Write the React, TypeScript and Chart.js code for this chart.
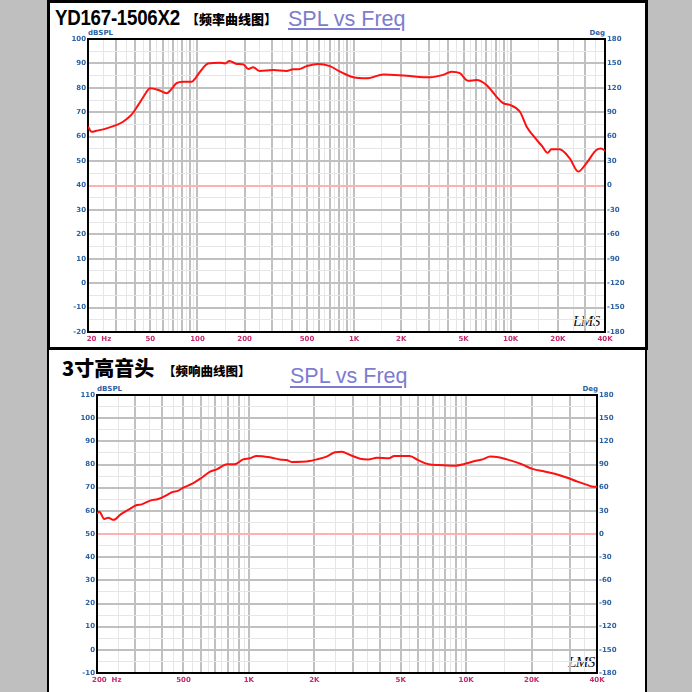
import React, { useEffect, useRef } from "react";
import { Chart, registerables } from "chart.js";

Chart.register(...registerables);

// ---------- Top chart (YD167-1506X2) ----------
const TOP_FREQ = [
  20, 21.1, 22.6, 26.3, 30.6, 33.5, 37.8, 41.9, 45.3, 49.9,
  56.3, 63.6, 66.8, 73.6, 81, 91.9, 96.9, 104, 117, 139, 150,
  160, 178, 196, 211, 227, 250, 304, 370, 409, 440,
  498, 590, 700, 814, 990, 1206, 1539, 2169, 3049, 3702,
  4190, 4730, 5345, 6041, 6997, 8105, 8931, 9872, 11452, 12643,
  14100, 15950, 17200, 18200, 20500, 23800, 27000, 30400, 35200, 37800,
  40000,
];
const TOP_SPL = [
  64.1, 62.0, 62.4, 63.4, 64.8, 66.1, 68.9, 73.0, 76.4, 79.8,
  79.1, 77.8, 78.8, 81.9, 82.5, 82.5, 83.9, 86.6, 90.0, 90.3, 90.0,
  91.0, 89.8, 89.6, 87.7, 88.4, 86.9, 87.3, 86.9, 87.6, 87.6,
  88.9, 89.8, 88.9, 86.6, 84.3, 83.9, 85.5, 84.9, 84.3, 85.3,
  86.6, 86.0, 82.9, 83.2, 81.2, 76.4, 73.7, 73.0, 70.2, 64.1,
  60.0, 55.9, 53.4, 54.8, 54.8, 51.1, 45.7, 49.1, 54.5, 55.2,
  54.3,
];
const TOP_X_TICKS = [20, 50, 100, 200, 500, 1000, 2000, 5000, 10000, 20000, 40000];
const TOP_X_LABELS = ["         20  Hz", "50", "100", "200", "500", "1K", "2K", "5K", "10K", "20K", "40K"];
const TOP_Y_MIN = -20;
const TOP_Y_MAX = 100;
const TOP_REF = 40;

// ---------- Bottom chart (3寸高音头) ----------
const BOT_FREQ = [
  200, 205, 216, 225, 239, 257, 278, 305, 321, 351,
  383, 419, 442, 474, 499, 546, 606, 663, 711, 794,
  857, 941, 1012, 1086, 1249, 1389, 1491, 1573, 1907, 2047,
  2278, 2490, 2675, 2923, 3253, 3542, 3885, 4413, 4663, 5490,
  6015, 6718, 7500, 8880, 9800, 11100, 11900, 12900, 14100, 15400,
  17900, 20200, 23200, 25800, 29200, 32500, 36000, 38500, 40000,
];
const BOT_SPL = [
  58.9, 59.6, 56.5, 57.0, 56.1, 58.5, 60.4, 62.5, 62.8, 64.4,
  65.1, 66.8, 68.0, 68.7, 70.0, 71.6, 74.3, 76.9, 77.9, 80.1,
  80.1, 82.2, 82.7, 83.7, 83.1, 82.2, 81.9, 81.1, 81.5, 82.2,
  83.4, 85.3, 85.5, 84.1, 82.5, 82.2, 82.9, 82.7, 83.7, 83.7,
  81.9, 80.1, 79.8, 79.5, 80.2, 81.6, 82.2, 83.4, 83.1, 82.2,
  80.2, 78.1, 76.9, 75.9, 74.3, 72.6, 71.2, 70.4, 70.4,
];
const BOT_X_TICKS = [200, 500, 1000, 2000, 5000, 10000, 20000, 40000];
const BOT_X_LABELS = ["        200  Hz", "500", "1K", "2K", "5K", "10K", "20K", "40K"];
const BOT_Y_MIN = -10;
const BOT_Y_MAX = 110;
const BOT_REF = 50;

const DEG_MIN = -180;
const DEG_MAX = 180;

// ---------- helpers ----------
function gridValues(min: number, max: number): number[] {
  const out: number[] = [];
  for (let e = Math.floor(Math.log10(min)); e <= Math.ceil(Math.log10(max)); e++) {
    const p = Math.pow(10, e);
    for (let n = 1; n < 10; n++) {
      for (const v of [n * p, (n + 0.5) * p]) {
        if (v >= min * 0.9999 && v <= max * 1.0001) out.push(v);
      }
    }
  }
  return out.sort((a, b) => a - b);
}
function isMajorLog(v: number): boolean {
  const p = Math.pow(10, Math.floor(Math.log10(v) + 1e-9));
  const m = v / p;
  return Math.abs(m - Math.round(m)) < 1e-6;
}

const MAJOR = "#c0c0c0";
const MINOR = "#e6e6e6";
const PINK = "#ffb0b0";
const BLUE = "#2d62a3";
const CRIMSON = "#c42a6e";
const TICK_FONT = { family: "'DejaVu Sans'", size: 7, weight: "bold" as const };

const framePlugin = {
  id: "frame",
  beforeDatasetsDraw(chart: any) {
    const { ctx, chartArea } = chart;
    const { left, top, right, bottom } = chartArea;
    ctx.save();
    ctx.strokeStyle = "#000";
    ctx.lineWidth = 2;
    ctx.strokeRect(left, top, right - left, bottom - top);
    ctx.restore();
  },
};

type Props = {
  top: number;
  height: number;
  freq: number[];
  spl: number[];
  xTicks: number[];
  xLabels: string[];
  yMin: number;
  yMax: number;
  refLevel: number;
  fMin: number;
  fMax: number;
  padTop: number;
  leftW: number;
  rightW: number;
  bottomH: number;
};

function SplChart(p: Props) {
  const ref = useRef<HTMLCanvasElement>(null);
  useEffect(() => {
    if (!ref.current) return;
    const grid = gridValues(p.fMin, p.fMax);
    const chart = new Chart(ref.current, {
      type: "line",
      data: {
        datasets: [
          {
            data: p.freq.map((f, i) => ({ x: f, y: p.spl[i] })),
            borderColor: "#ff1010",
            borderWidth: 2,
            pointRadius: 0,
            cubicInterpolationMode: "monotone",
            fill: false,
          },
        ],
      },
      options: {
        animation: false,
        responsive: false,
        maintainAspectRatio: false,
        devicePixelRatio: 1,
        layout: { padding: { top: p.padTop, left: 0, right: 0, bottom: 0 } },
        plugins: { legend: { display: false }, tooltip: { enabled: false }, title: { display: false } },
        scales: {
          x: {
            type: "logarithmic",
            position: "bottom",
            min: p.fMin,
            max: p.fMax,
            afterBuildTicks: (scale: any) => {
              scale.ticks = grid.map((v) => ({ value: v }));
            },
            afterFit: (scale: any) => {
              scale.height = p.bottomH;
            },
            border: { display: false },
            grid: {
              drawTicks: false,
              color: (c: any) => (isMajorLog(c.tick.value) ? MAJOR : MINOR),
              lineWidth: (c: any) => (isMajorLog(c.tick.value) ? 2 : 1),
            },
            ticks: {
              autoSkip: false,
              maxRotation: 0,
              minRotation: 0,
              padding: 3,
              color: CRIMSON,
              font: TICK_FONT,
              callback: (v: any) => {
                const idx = p.xTicks.findIndex((t) => Math.abs(t - Number(v)) / t < 1e-6);
                return idx >= 0 ? p.xLabels[idx] : "";
              },
            },
          },
          y: {
            type: "linear",
            position: "left",
            min: p.yMin,
            max: p.yMax,
            afterFit: (scale: any) => {
              scale.width = p.leftW;
            },
            border: { display: false },
            grid: {
              drawTicks: false,
              color: (c: any) => {
                const v = c.tick.value;
                if (v === p.refLevel) return PINK;
                return v % 10 === 0 ? MAJOR : MINOR;
              },
              lineWidth: (c: any) => (c.tick.value % 10 === 0 ? 2 : 1),
            },
            ticks: {
              stepSize: 5,
              padding: 2,
              color: BLUE,
              font: TICK_FONT,
              autoSkip: false,
              callback: (v: any) => (Number(v) % 10 === 0 ? String(v) : ""),
            },
          },
          y2: {
            type: "linear",
            position: "right",
            min: DEG_MIN,
            max: DEG_MAX,
            afterFit: (scale: any) => {
              scale.width = p.rightW;
            },
            border: { display: false },
            grid: { drawTicks: false, drawOnChartArea: false },
            ticks: {
              stepSize: 30,
              padding: 2,
              color: BLUE,
              font: TICK_FONT,
              autoSkip: false,
            },
          },
        },
      },
      plugins: [framePlugin],
    } as any);
    return () => chart.destroy();
  }, []);
  return (
    <canvas
      ref={ref}
      width={692}
      height={p.height}
      style={{ position: "absolute", left: 0, top: p.top, width: 692, height: p.height }}
    />
  );
}

const abs = (s: React.CSSProperties): React.CSSProperties => ({
  position: "absolute",
  whiteSpace: "nowrap",
  lineHeight: 1,
  margin: 0,
  ...s,
});

const headSpl: React.CSSProperties = {
  fontFamily: "'Liberation Sans', Arial, sans-serif",
  fontSize: 21.5,
  color: "#7c7cd0",
  textDecoration: "underline",
  textDecorationThickness: "2px",
  textUnderlineOffset: "2px",
};
const smallBlue: React.CSSProperties = {
  fontFamily: "'DejaVu Sans', sans-serif",
  fontSize: 7,
  fontWeight: "bold",
  color: BLUE,
};
const lms: React.CSSProperties = {
  fontFamily: "'Liberation Serif', serif",
  fontStyle: "italic",
  fontSize: 15,
  color: "#111",
  letterSpacing: "-0.5px",
};

export default function App() {
  return (
    <div
      style={{
        position: "absolute",
        left: 0,
        top: 0,
        width: 692,
        height: 692,
        background: "#bfbfbf",
        overflow: "hidden",
      }}
    >
      {/* panels */}
      <div
        style={{
          position: "absolute",
          left: 47,
          top: 0,
          width: 601,
          height: 350,
          background: "#fff",
          border: "3px solid #000",
          boxSizing: "border-box",
        }}
      />
      <div
        style={{
          position: "absolute",
          left: 47,
          top: 347,
          width: 600,
          height: 360,
          background: "#fff",
          borderLeft: "2px solid #000",
          borderRight: "2px solid #000",
          borderTop: "3px solid #000",
          boxSizing: "border-box",
        }}
      />

      {/* top titles */}
      <div
        style={abs({
          left: 55,
          top: 7.4,
          fontFamily: "'Liberation Sans', sans-serif",
          fontWeight: "bold",
          fontSize: 22,
          color: "#000",
          transform: "scaleX(0.85)",
          transformOrigin: "0 0",
          letterSpacing: "-0.3px",
        })}
      >
        YD167-1506X2
      </div>
      <div
        style={abs({
          left: 186,
          top: 12,
          fontFamily: "'Noto Sans CJK SC', sans-serif",
          fontWeight: 900,
          fontSize: 13,
          color: "#000",
        })}
      >
        【频率曲线图】
      </div>
      <div style={abs({ left: 288, top: 9, ...headSpl })}>SPL vs Freq</div>
      <div style={abs({ left: 88, top: 29.6, ...smallBlue })}>dBSPL</div>
      <div style={abs({ left: 565, width: 40, textAlign: "right", top: 29.8, ...smallBlue })}>Deg</div>
      <div style={abs({ left: 573, top: 314.4, ...lms })}>LMS</div>

      {/* bottom titles */}
      <div
        style={abs({
          left: 62,
          top: 358,
          fontFamily: "'Noto Sans CJK SC', sans-serif",
          fontWeight: 900,
          fontSize: 20,
          color: "#000",
        })}
      >
        3寸高音头
      </div>
      <div
        style={abs({
          left: 163,
          top: 365.3,
          fontFamily: "'Noto Sans CJK SC', sans-serif",
          fontWeight: 900,
          fontSize: 12.5,
          color: "#000",
        })}
      >
        【频响曲线图】
      </div>
      <div style={abs({ left: 290, top: 365.5, ...headSpl, textUnderlineOffset: "3px" })}>SPL vs Freq</div>
      <div style={abs({ left: 97, top: 386.4, ...smallBlue })}>dBSPL</div>
      <div style={abs({ left: 558, width: 40, textAlign: "right", top: 385.5, ...smallBlue })}>Deg</div>
      <div style={abs({ left: 568, top: 655.4, ...lms })}>LMS</div>

      <SplChart
        top={0}
        height={350}
        freq={TOP_FREQ}
        spl={TOP_SPL}
        xTicks={TOP_X_TICKS}
        xLabels={TOP_X_LABELS}
        yMin={TOP_Y_MIN}
        yMax={TOP_Y_MAX}
        refLevel={TOP_REF}
        fMin={20}
        fMax={40000}
        padTop={39}
        leftW={88}
        rightW={87}
        bottomH={18}
      />
      <SplChart
        top={350}
        height={342}
        freq={BOT_FREQ}
        spl={BOT_SPL}
        xTicks={BOT_X_TICKS}
        xLabels={BOT_X_LABELS}
        yMin={BOT_Y_MIN}
        yMax={BOT_Y_MAX}
        refLevel={BOT_REF}
        fMin={200}
        fMax={40000}
        padTop={45}
        leftW={97}
        rightW={95}
        bottomH={19}
      />
    </div>
  );
}
